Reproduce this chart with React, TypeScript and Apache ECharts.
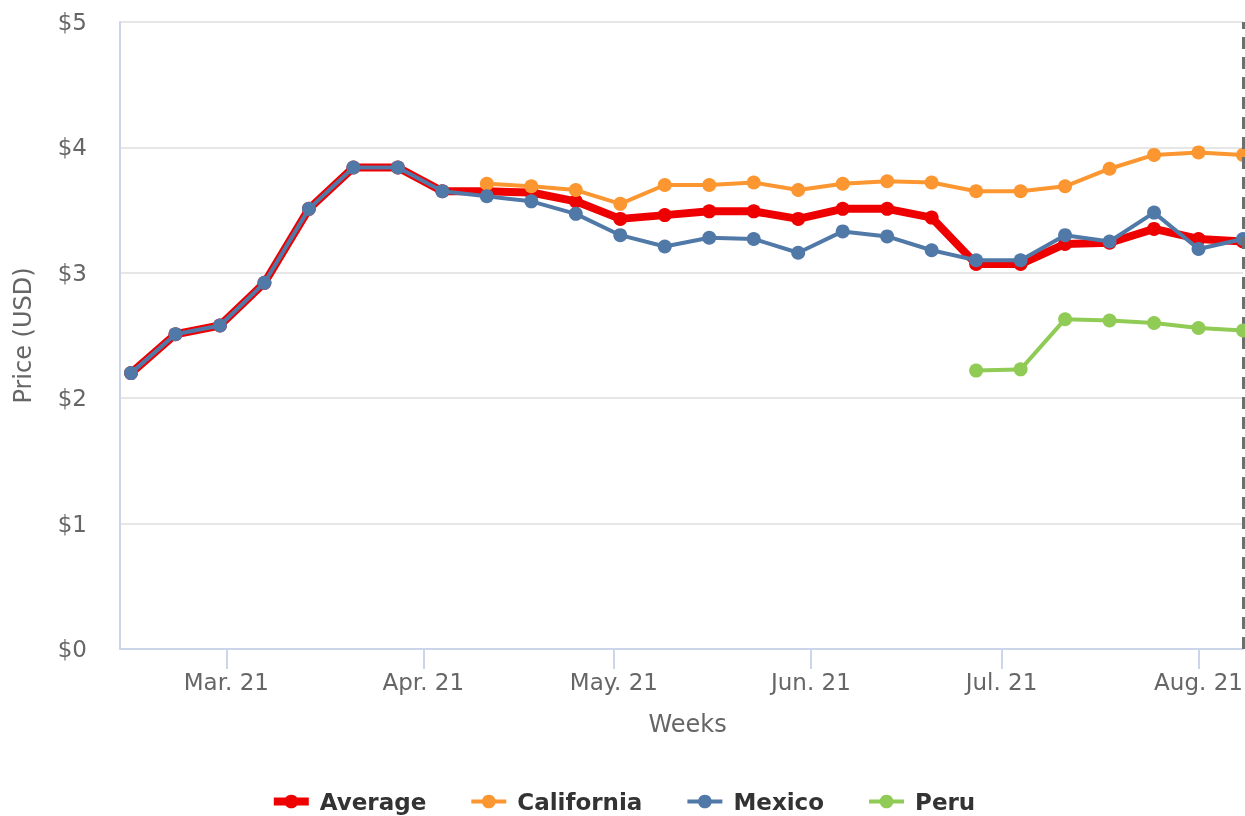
import React, { useEffect, useRef } from "react";
import * as echarts from "echarts";

const weeks: string[] = [
  "2021-02-14", "2021-02-21", "2021-02-28", "2021-03-07", "2021-03-14", "2021-03-21",
  "2021-03-28", "2021-04-04", "2021-04-11", "2021-04-18", "2021-04-25", "2021-05-02",
  "2021-05-09", "2021-05-16", "2021-05-23", "2021-05-30", "2021-06-06", "2021-06-13",
  "2021-06-20", "2021-06-27", "2021-07-04", "2021-07-11", "2021-07-18", "2021-07-25",
  "2021-08-01", "2021-08-08",
];

const average: (number | null)[] = [
  2.2, 2.51, 2.58, 2.92, 3.51, 3.84, 3.84, 3.65, 3.65, 3.64, 3.57, 3.43,
  3.46, 3.49, 3.49, 3.43, 3.51, 3.51, 3.44, 3.07, 3.07, 3.23, 3.24, 3.35,
  3.27, 3.25,
];

const california: (number | null)[] = [
  null, null, null, null, null, null, null, null, 3.71, 3.69, 3.66, 3.55,
  3.7, 3.7, 3.72, 3.66, 3.71, 3.73, 3.72, 3.65, 3.65, 3.69, 3.83, 3.94,
  3.96, 3.94,
];

const mexico: (number | null)[] = [
  2.2, 2.51, 2.58, 2.92, 3.51, 3.84, 3.84, 3.65, 3.61, 3.57, 3.47, 3.3,
  3.21, 3.28, 3.27, 3.16, 3.33, 3.29, 3.18, 3.1, 3.1, 3.3, 3.25, 3.48,
  3.19, 3.27,
];

const peru: (number | null)[] = [
  null, null, null, null, null, null, null, null, null, null, null, null,
  null, null, null, null, null, null, null, 2.22, 2.23, 2.63, 2.62, 2.6,
  2.56, 2.54,
];

const monthNames = ["Jan", "Feb", "Mar", "Apr", "May", "Jun", "Jul", "Aug", "Sep", "Oct", "Nov", "Dec"];
const yTicks = [0, 1, 2, 3, 4, 5];
const currentWeek = "2021-08-08";

function toTime(s: string): number {
  const [y, m, d] = s.split("-").map(Number);
  return new Date(y, m - 1, d).getTime();
}

function pairs(vals: (number | null)[]) {
  return weeks.map((w, i) => [toTime(w), vals[i]]);
}

export default function App() {
  const ref = useRef<HTMLDivElement>(null);
  useEffect(() => {
    if (!ref.current) return;
    const chart = echarts.init(ref.current, undefined, { renderer: "svg" });
    const DAY = 86400000;
    const font = "DejaVu Sans, sans-serif";
    const mk = (name: string, vals: (number | null)[], color: string, width: number, size: number, z: number) => ({
      name,
      type: "line",
      data: pairs(vals),
      symbol: "circle",
      symbolSize: size,
      showSymbol: true,
      connectNulls: false,
      z,
      clip: true,
      lineStyle: { color, width },
      itemStyle: { color },
      emphasis: { disabled: true },
    });
    const avg: any = mk("Average", average, "#ee0000", 8, 14, 2);
    avg.markLine = {
      silent: true,
      symbol: "none",
      label: { show: false },
      lineStyle: { color: "#6e6e6e", width: 3, type: [12, 8] },
      data: [{ xAxis: toTime(currentWeek) }],
    };
    chart.setOption({
      animation: false,
      grid: { left: 120, right: 2, top: 22, bottom: 167, containLabel: false, outerBoundsMode: "none" } as any,
      legend: {
        left: "center",
        top: 785,
        itemWidth: 35,
        itemHeight: 17,
        itemGap: 43,
        textStyle: { fontFamily: font, fontSize: 23, fontWeight: "bold", color: "#333333", padding: [0, 0, 0, 6] },
        data: [
          { name: "Average", lineStyle: { width: 8 } },
          { name: "California", lineStyle: { width: 4 } },
          { name: "Mexico", lineStyle: { width: 4 } },
          { name: "Peru", lineStyle: { width: 4 } },
        ],
      },
      xAxis: {
        type: "time",
        min: toTime("2021-02-14") - 1.73 * DAY,
        max: toTime(currentWeek),
        minInterval: 28 * DAY,
        maxInterval: 31 * DAY,
        name: "Weeks",
        nameLocation: "middle",
        nameGap: 63,
        nameTextStyle: { fontFamily: font, fontSize: 24, color: "#666666", padding: [0, 0, 0, 12] },
        axisLine: { lineStyle: { color: "#ccd6eb", width: 2 } },
        axisTick: { show: true, length: 20, lineStyle: { color: "#ccd6eb", width: 2 } },
        splitLine: { show: false },
        axisLabel: {
          fontFamily: font,
          fontSize: 23,
          color: "#666666",
          margin: 21,
          hideOverlap: false,
          formatter: (v: number) => {
            const d = new Date(v);
            return monthNames[d.getMonth()] + ". " + String(d.getFullYear()).slice(2);
          },
        },
      },
      yAxis: {
        type: "value",
        min: yTicks[0],
        max: yTicks[yTicks.length - 1],
        interval: 1,
        name: "Price (USD)",
        nameLocation: "middle",
        nameGap: 85,
        nameTextStyle: { fontFamily: font, fontSize: 24, color: "#666666" },
        axisLine: { show: true, lineStyle: { color: "#ccd6eb", width: 2 } },
        axisTick: { show: false },
        splitLine: { lineStyle: { color: "#e6e6e6", width: 2 } },
        axisLabel: {
          fontFamily: font,
          fontSize: 23,
          color: "#666666",
          margin: 33,
          formatter: (v: number) => "$" + v,
        },
      },
      series: [
        avg,
        mk("California", california, "#fb9630", 4, 14, 3),
        mk("Mexico", mexico, "#5179a8", 4, 14, 4),
        mk("Peru", peru, "#8fcb55", 4, 14, 5),
      ],
    });
    return () => chart.dispose();
  }, []);
  return <div ref={ref} style={{ position: "fixed", left: 0, top: 0, width: 1245, height: 816 }} />;
}
